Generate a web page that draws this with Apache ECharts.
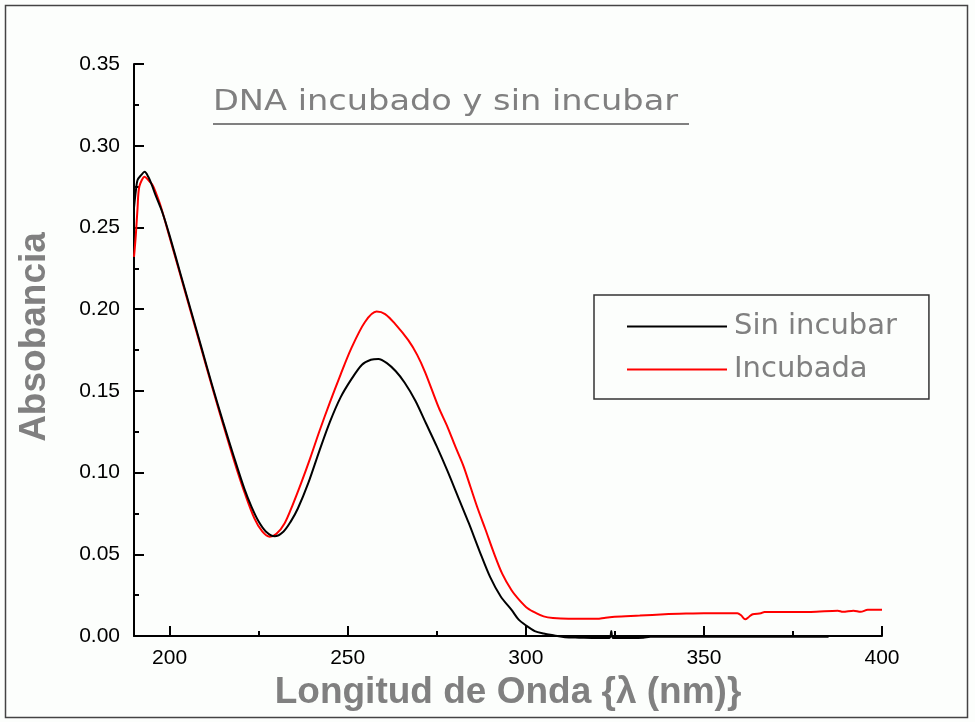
<!DOCTYPE html>
<html>
<head>
<meta charset="utf-8">
<script src="https://cdn.jsdelivr.net/npm/echarts@6/dist/echarts.min.js"></script>
<style>
html,body{margin:0;padding:0;background:#fcfefc;}
#chart{width:975px;height:722px;}
</style>
</head>
<body>
<div id="chart"></div>
<script>
// ---- data ----
const titleText = 'DNA incubado y sin incubar';
const xAxisName = 'Longitud de Onda {\u03bb (nm)}';
const yAxisName = 'Absobancia';
const seriesNames = ['Sin incubar', 'Incubada'];
const xMajorTicks = [200, 250, 300, 350, 400];
const xMinorTicks = [225, 275, 325, 375];

const sinX = [190,190.5,191,192,193,194,195,196,198,200,203,206,209,212,215,218,221,223,225,227,229.5,232,234,236,239,242,245,248,251,254,256.5,258.6,261,263.5,266,269,272,275,278,281,284,287,290,293,296,298,300,302.5,305,308,311,315,320,323.5,324,324.5,330,333,335,345,360,375,385];
const sinY = [0.262,0.272,0.279,0.282,0.284,0.281,0.276,0.270,0.259,0.245,0.222,0.199,0.176,0.153,0.131,0.110,0.090,0.079,0.070,0.064,0.061,0.064,0.070,0.078,0.094,0.113,0.131,0.146,0.157,0.166,0.169,0.1695,0.167,0.162,0.155,0.144,0.130,0.116,0.101,0.085,0.069,0.052,0.036,0.024,0.016,0.010,0.0065,0.003,0.0015,0.0003,-0.0008,-0.001,-0.0012,-0.0012,0.003,-0.0012,-0.0012,-0.001,-0.0005,-0.0005,-0.0005,-0.0005,-0.0005];

const incX = [190,190.5,191,191.5,193,194,195.2,196,197.5,200,203,206,209,211.2,214,217,219,221,223.8,226,228.1,230,232.3,234.5,237,239.5,242,245,248,251,254.8,258.1,260.5,263.3,267,269.5,271.8,275.5,278,280.2,282.5,284.5,286.5,288.7,291,293.4,296,298.2,300.5,302.9,305,307.6,312,320,322,325,332,339,345,350,359.4,360.5,361.6,362.7,363.7,366,367,380,387.6,389,392,394,396,400];
const incY = [0.232,0.245,0.262,0.275,0.281,0.279,0.276,0.272,0.263,0.244,0.221,0.198,0.175,0.158,0.137,0.115,0.101,0.088,0.072,0.064,0.0608,0.0625,0.069,0.080,0.094,0.109,0.125,0.143,0.160,0.176,0.192,0.1985,0.197,0.191,0.181,0.172,0.161,0.140,0.128,0.116,0.104,0.091,0.078,0.065,0.051,0.038,0.028,0.022,0.017,0.014,0.012,0.011,0.0105,0.0105,0.011,0.0118,0.0125,0.0133,0.0137,0.0139,0.0139,0.0125,0.0102,0.0118,0.0133,0.0139,0.0147,0.0147,0.0155,0.0148,0.0155,0.0148,0.016,0.016];

const pair = (xs, ys) => xs.map((x, i) => [x, ys[i]]);

const chart = echarts.init(document.getElementById('chart'), null, {renderer: 'canvas'});
const gray = '#808080';
const tickFont = {color: '#000', fontSize: 21, fontFamily: 'Liberation Sans, Arial, sans-serif'};
const titleFont = 'DejaVu Sans, sans-serif';

chart.setOption({
  backgroundColor: '#fcfefc',
  animation: false,
  grid: {left: 134, right: 93, top: 64, bottom: 86, containLabel: false},
  legend: {
    orient: 'vertical',
    left: 594, top: 295,
    padding: [17, 32, 15, 33],
    itemGap: 14,
    itemWidth: 100, itemHeight: 2,
    icon: 'rect',
    borderColor: '#333', borderWidth: 1.5,
    backgroundColor: '#fcfefc',
    textStyle: {color: gray, fontSize: 29, fontFamily: titleFont, padding: [0, 0, 0, 2]},
    data: seriesNames
  },
  xAxis: [{
    type: 'value', min: 190, max: 400,
    name: xAxisName, nameLocation: 'middle', nameGap: 31,
    nameTextStyle: {color: gray, fontSize: 37, fontWeight: 'bold', fontFamily: 'Liberation Sans, Arial, sans-serif'},
    axisLine: {show: true, onZero: false, lineStyle: {color: '#000', width: 2}},
    axisTick: {show: true, inside: true, length: 10, lineStyle: {color: '#000', width: 2}, customValues: xMajorTicks},
    axisLabel: Object.assign({margin: 12, customValues: xMajorTicks}, tickFont),
    splitLine: {show: false}
  }, {
    type: 'value', min: 190, max: 400, position: 'bottom',
    axisLine: {show: false},
    axisTick: {show: true, inside: true, length: 5, lineStyle: {color: '#000', width: 2}, customValues: xMinorTicks},
    axisLabel: {show: false},
    splitLine: {show: false}
  }],
  yAxis: {
    type: 'value', min: 0, max: 0.35, interval: 0.05,
    name: yAxisName, nameLocation: 'middle', nameGap: 81, nameRotate: 90,
    nameTextStyle: {color: gray, fontSize: 37, fontWeight: 'bold', fontFamily: 'Liberation Sans, Arial, sans-serif', padding: [0, 0, 0, 26]},
    axisLine: {show: true, onZero: false, lineStyle: {color: '#000', width: 2}},
    axisTick: {show: true, inside: true, length: 10, lineStyle: {color: '#000', width: 2}},
    minorTick: {show: true, splitNumber: 2, length: 5, lineStyle: {color: '#000', width: 2}},
    axisLabel: Object.assign({margin: 14, formatter: v => v.toFixed(2)}, tickFont),
    splitLine: {show: false}
  },
  graphic: [
    {type: 'rect', silent: true, shape: {x: 5.5, y: 5.5, width: 962, height: 712}, style: {fill: 'none', stroke: '#444', lineWidth: 1.5}},
    {type: 'text', silent: true, x: 213, y: 103, scaleX: 1.2, style: {x: 0, y: 0, text: titleText, fill: gray, font: '28px ' + titleFont, verticalAlign: 'middle', align: 'left'}},
    {type: 'rect', silent: true, shape: {x: 213, y: 123, width: 476, height: 2}, style: {fill: gray}}
  ],
  series: [{
    name: seriesNames[0], type: 'line', xAxisIndex: 0, data: pair(sinX, sinY),
    symbol: 'none', smooth: 0.3, clip: false,
    lineStyle: {color: '#000', width: 2}, itemStyle: {color: '#000'}, z: 3
  }, {
    name: seriesNames[1], type: 'line', xAxisIndex: 0, data: pair(incX, incY),
    symbol: 'none', smooth: 0.3, clip: false,
    lineStyle: {color: '#ff0000', width: 2}, itemStyle: {color: '#ff0000'}, z: 2
  }]
});
</script>
</body>
</html>
